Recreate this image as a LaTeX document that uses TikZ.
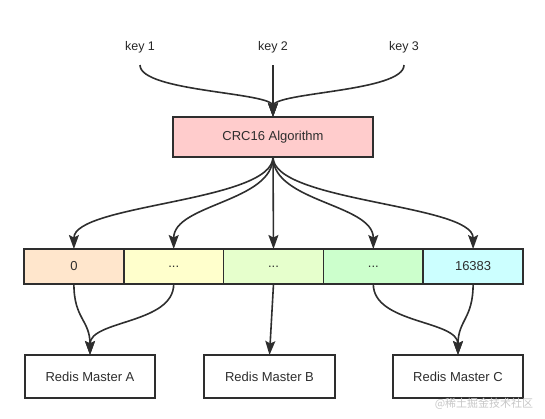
\documentclass[tikz,border=0pt]{standalone}
\usepackage{fontspec}
\setmainfont{Liberation Sans}
\newfontfamily\cjkfont{Noto Sans CJK SC}
\usetikzlibrary{positioning,arrows.meta}
\definecolor{edgegray}{HTML}{2E2E2E}
\definecolor{crcpink}{HTML}{FFCCCC}
\definecolor{slotpeach}{HTML}{FFE6CC}
\definecolor{slotyellow}{HTML}{FFFFCC}
\definecolor{slotlime}{HTML}{E6FFCC}
\definecolor{slotgreen}{HTML}{CCFFCC}
\definecolor{slotcyan}{HTML}{CCFFFF}
\tikzset{
  box/.style={draw=edgegray, line width=1.6pt, inner sep=0pt, outer sep=0pt,
    text=edgegray, font=\fontsize{13}{15}\selectfont},
  slot/.style={box, minimum width=99.8pt, minimum height=35pt},
  master/.style={box, fill=white, minimum width=130.5pt, minimum height=43pt},
  keylabel/.style={inner sep=0pt, minimum height=36pt, text=black!85,
    font=\fontsize{12.5}{14}\selectfont},
  link/.style={draw=edgegray, line width=1.6pt,
    -{Stealth[length=14pt, width=10pt, inset=2.5pt]}},
}
\begin{document}
\begin{tikzpicture}[x=1pt, y=1pt]
  \useasboundingbox (0,0) rectangle (545,-418);
  \node [box, fill=crcpink, minimum width=200pt, minimum height=40pt] (crc) at (273,-137) {CRC16 Algorithm};
  \node [keylabel, above=52pt of crc] (key2) {key 2};
  \node [keylabel] (key1) at ([xshift=-133pt]key2.center) {key 1};
  \node [keylabel] (key3) at ([xshift=131pt]key2.center) {key 3};

  \node [slot, fill=slotpeach, anchor=west] (s0) at (24,-266.5) {0};
  \node [slot, fill=slotyellow, right=0pt of s0] (s1) {...};
  \node [slot, fill=slotlime, right=0pt of s1] (s2) {...};
  \node [slot, fill=slotgreen, right=0pt of s2] (s3) {...};
  \node [slot, fill=slotcyan, right=0pt of s3] (s4) {16383};

  \node [master] (mA) at (90,-376.5) {Redis Master A};
  \node [master, right=49pt of mA] (mB) {Redis Master B};
  \node [master, right=58pt of mB] (mC) {Redis Master C};

  \draw [link] (key1.south) .. controls +(0,-27) and +(0,25) .. (crc.north);
  \draw [link] (key2.south) -- (crc.north);
  \draw [link] (key3.south) .. controls +(0,-27) and +(0,25) .. (crc.north);

  \draw [link] (crc.south) .. controls +(0,-45) and +(0,45) .. (s0.north);
  \draw [link] (crc.south) .. controls +(0,-45) and +(0,45) .. (s1.north);
  \draw [link] (crc.south) -- (s2.north);
  \draw [link] (crc.south) .. controls +(0,-45) and +(0,45) .. (s3.north);
  \draw [link] (crc.south) .. controls +(0,-45) and +(0,45) .. (s4.north);

  \draw [link] (s0.south) .. controls +(0,-35) and +(0,35) .. (mA.north);
  \draw [link] (s1.south) .. controls +(0,-40) and +(0,35) .. (mA.north);
  \draw [link] (s2.south) -- (mB.north);
  \draw [link] (s3.south) .. controls +(0,-40) and +(0,35) .. (mC.north);
  \draw [link] (s4.south) .. controls +(0,-35) and +(0,35) .. (mC.north);

  \node [text=black!22, font=\cjkfont\fontsize{11}{13}\selectfont] (mark) at (484,-403.5) {@稀土掘金技术社区};
\end{tikzpicture}
\end{document}
